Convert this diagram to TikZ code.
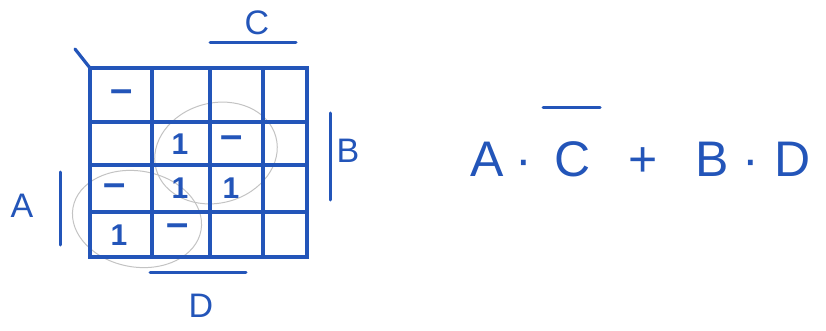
\documentclass[tikz,border=0pt]{standalone}
\usepackage{fontspec}
\setmainfont{Liberation Sans}
\definecolor{ink}{RGB}{35,85,185}
\definecolor{loop}{RGB}{195,195,195}
\begin{document}
\begin{tikzpicture}[x=1pt,y=-1pt,
  grid/.style={draw=ink,line width=3.2pt,line cap=round},
  bar/.style={draw=ink,line width=3pt,line cap=round},
  lbl/.style={text=ink,font=\fontsize{34}{34}\selectfont,inner sep=0pt},
  cell/.style={text=ink,font=\fontsize{30}{30}\selectfont\bfseries,inner sep=0pt},
  dsh/.style={text=ink,font=\fontsize{40}{40}\selectfont\bfseries,inner sep=0pt},
  expr/.style={text=ink,font=\fontsize{50}{50}\selectfont,inner sep=0pt,anchor=base},
  grp/.style={draw=loop,line width=1pt}]
\useasboundingbox (0,0) rectangle (826,331);
% groups
\draw[grp,rotate around={15:(216,153)}] (216,153) ellipse (62 and 50);
\draw[grp,rotate around={-10:(137,219)}] (137,219) ellipse (65 and 48);
% grid
\draw[grid] (75,49) -- (90,68);
\draw[grid] (90,68) rectangle (307,257);
\foreach \x in {152,210,263} \draw[grid] (\x,68) -- (\x,257);
\foreach \y in {122,165,212} \draw[grid] (90,\y) -- (307,\y);
% cell entries
\node[dsh] (c11) at (122,96) {–};
\node[cell] (c22) at (180,144) {1};
\node[dsh] (c23) at (232,142) {–};
\node[dsh] (c31) at (115,190) {–};
\node[cell] (c32) at (180,188) {1};
\node[cell] (c33) at (231,188) {1};
\node[cell] (c41) at (119,235) {1};
\node[dsh] (c42) at (178,230) {–};
% variable labels
\node[lbl] (C) at (257,23) {C};
\draw[bar] (210,43) -- (296,43);
\node[lbl] (B) at (348,151) {B};
\draw[bar] (330,113) -- (330,200);
\node[lbl] (A) at (22,206) {A};
\draw[bar] (60,172) -- (60,245);
\node[lbl] (D) at (201,306) {D};
\draw[bar] (150,272) -- (246,272);
% expression
\node[expr] (eA) at (487,176) {A};
\node[expr] (d1) at (524,176) {·};
\node[expr] (eC) at (573,176) {C};
\draw[bar] (543,108) -- (600,108);
\node[expr] (plus) at (643,176) {+};
\node[expr] (eB) at (712,176) {B};
\node[expr] (d2) at (751,176) {·};
\node[expr] (eD) at (793,176) {D};
\end{tikzpicture}
\end{document}
